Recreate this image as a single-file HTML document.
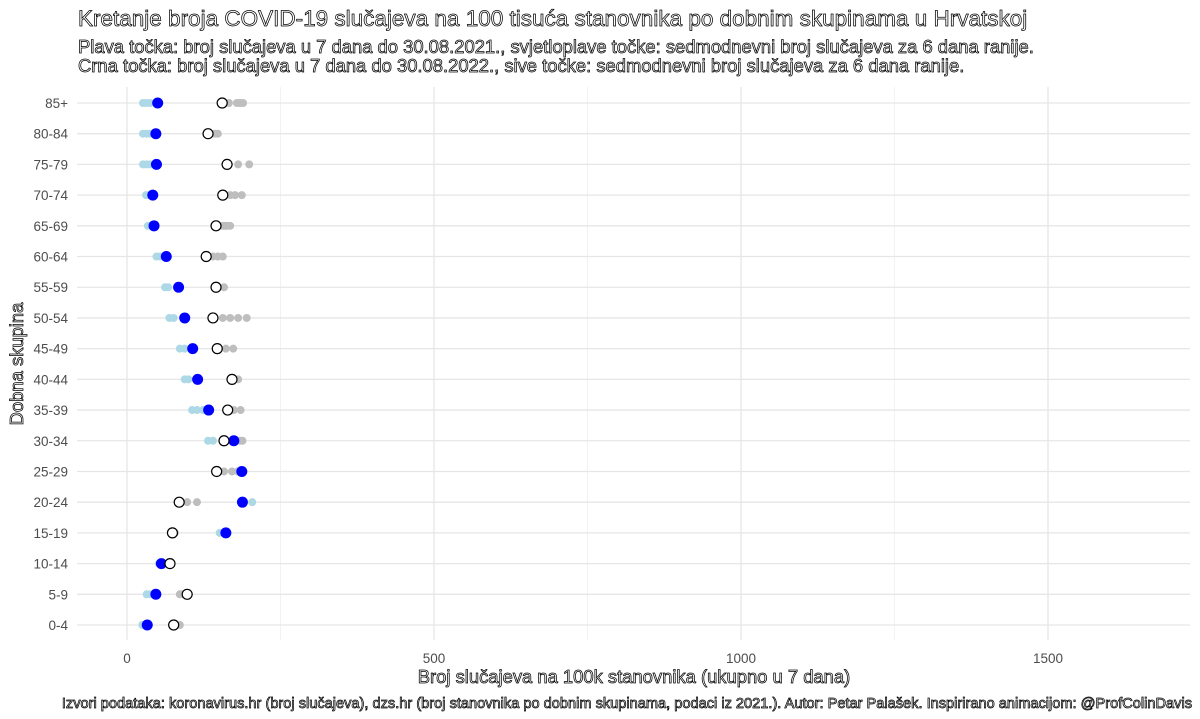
<!DOCTYPE html>
<html><head><meta charset="utf-8">
<style>
html,body{margin:0;padding:0;background:#fff;}
svg{display:block;font-family:"Liberation Sans",sans-serif;}
.hollow{fill:#fff;stroke:#000;stroke-width:0.75px;}
</style></head>
<body>
<svg id="chart" width="1200" height="719" viewBox="0 0 1200 719">
<text class="hollow" x="78" y="26" font-size="22.5">Kretanje broja COVID-19 slučajeva na 100 tisuća stanovnika po dobnim skupinama u Hrvatskoj</text>
<text class="hollow" x="78" y="53" font-size="18.4">Plava točka: broj slučajeva u 7 dana do 30.08.2021., svjetloplave točke: sedmodnevni broj slučajeva za 6 dana ranije.</text>
<text class="hollow" x="78" y="72" font-size="18.4">Crna točka: broj slučajeva u 7 dana do 30.08.2022., sive točke: sedmodnevni broj slučajeva za 6 dana ranije.</text>
<g id="grid"></g>
<g id="marks"></g>
<g id="labels"></g>
<text class="hollow" x="634" y="683" font-size="18.4" text-anchor="middle">Broj slučajeva na 100k stanovnika (ukupno u 7 dana)</text>
<text class="hollow" transform="translate(23,364) rotate(-90)" font-size="18.4" text-anchor="middle">Dobna skupina</text>
<text class="hollow" x="1192" y="708" font-size="14.6" text-anchor="end">Izvori podataka: koronavirus.hr (broj slučajeva), dzs.hr (broj stanovnika po dobnim skupinama, podaci iz 2021.). Autor: Petar Palašek. Inspirirano animacijom: @ProfColinDavis</text>
</svg>
<script>
const categories=["85+","80-84","75-79","70-74","65-69","60-64","55-59","50-54","45-49","40-44","35-39","30-34","25-29","20-24","15-19","10-14","5-9","0-4"];
const blue2021=[50,47,48,42,44,64,84,94,107,115,133,174,187,188,161,56,47,33];
const lightTrail2021=[[26,32,38],[26,32,38],[26,32,38],[31,36],[34,38],[48,54],[62,67],[69,76],[86,94],[94,100],[106,114,124],[132,140],[180,184],[204],[151],[52],[32,38],[25,29]];
const black2022=[155,132,163,156,145,129,145,140,147,171,164,158,146,85,74,70,98,76];
const greyTrail2022=[[166,179,184,189],[143,148],[181,199],[168,176,187],[156,160,163,168],[140,148,156],[158],[156,168,181,195],[161,173],[181],[174,185],[184,188],[158,171,181],[98,114],[78],[72],[86,90],[86]];
const xTicks=[0,500,1000,1500];
const xMinor=[250,750,1250];

const NS="http://www.w3.org/2000/svg";
const L=77,R=1190,T=87,B=640;
const x=v=>127+v*0.614;
const y=i=>103+i*(625-103)/17;
function mk(tag,attrs,parent){const e=document.createElementNS(NS,tag);for(const k in attrs)e.setAttribute(k,attrs[k]);parent.appendChild(e);return e;}
const grid=document.getElementById('grid'),marks=document.getElementById('marks'),labels=document.getElementById('labels');
xMinor.forEach(v=>{const l=mk('line',{x1:x(v),x2:x(v),y1:T,y2:B,stroke:'#f2f2f2','stroke-width':1},grid);

});
xTicks.forEach(v=>{const l=mk('line',{x1:x(v),x2:x(v),y1:T,y2:B,stroke:'#e6e6e6','stroke-width':1.3},grid);


const t=mk('text',{x:x(v),y:663,'font-size':13.5,fill:'#4d4d4d','text-anchor':'middle'},labels);t.textContent=v;

});
categories.forEach((c,i)=>{
const l=mk('line',{x1:L,x2:R,y1:y(i),y2:y(i),stroke:'#e6e6e6','stroke-width':1.3},grid);


const t=mk('text',{x:68,y:y(i)+5,'font-size':13.5,fill:'#4d4d4d','text-anchor':'end'},labels);t.textContent=c;


lightTrail2021[i].forEach(v=>{const d=mk('circle',{cx:x(v),cy:y(i),r:4,fill:'#add8e6'},marks);

});
greyTrail2022[i].forEach(v=>{const d=mk('circle',{cx:x(v),cy:y(i),r:4,fill:'#bebebe'},marks);

});
const b=mk('circle',{cx:x(blue2021[i]),cy:y(i),r:5.5,fill:'#0000ff'},marks);


const k=mk('circle',{cx:x(black2022[i]),cy:y(i),r:5,fill:'#fff',stroke:'#000','stroke-width':1.2},marks);


});
</script>
</body></html>
